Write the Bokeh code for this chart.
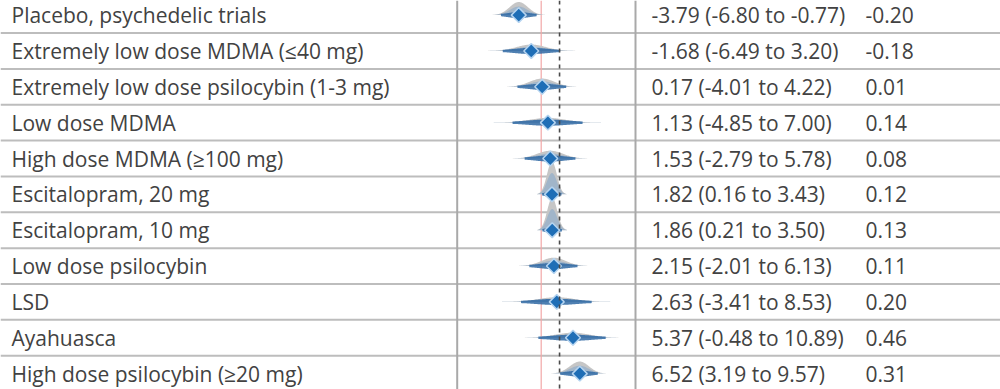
import numpy as np
from bokeh.plotting import figure
from bokeh.models import Range1d, Span, ColumnDataSource
from bokeh.core.properties import value
from bokeh.embed import file_html
from bokeh.resources import INLINE

# ---------------- data ----------------
labels = [
    "Placebo, psychedelic trials",
    "Extremely low dose MDMA (\u226440 mg)",
    "Extremely low dose psilocybin (1-3 mg)",
    "Low dose MDMA",
    "High dose MDMA (\u2265100 mg)",
    "Escitalopram, 20 mg",
    "Escitalopram, 10 mg",
    "Low dose psilocybin",
    "LSD",
    "Ayahuasca",
    "High dose psilocybin (\u226520 mg)",
]
means = [-3.79, -1.68, 0.17, 1.13, 1.53, 1.82, 1.86, 2.15, 2.63, 5.37, 6.52]
lows = [-6.80, -6.49, -4.01, -4.85, -2.79, 0.16, 0.21, -2.01, -3.41, -0.48, 3.19]
highs = [-0.77, 3.20, 4.22, 7.00, 5.78, 3.43, 3.50, 6.13, 8.53, 10.89, 9.57]
smd = [-0.20, -0.18, 0.01, 0.14, 0.08, 0.12, 0.13, 0.11, 0.20, 0.46, 0.31]
null_value = 0.0
reference_value = 3.1

# ---------------- layout ----------------
W, H = 1000, 389
PX_PER_UNIT = 5.92
ZERO_PX = 540.7
ROW_PX = 35.85
ROW0_PX = 14.6

def px(xp):
    return (xp - ZERO_PX) / PX_PER_UNIT

def rows(hpx):
    return hpx / ROW_PX

p = figure(width=W, height=H, output_backend="svg", toolbar_location=None,
           x_range=Range1d(px(0), px(W)),
           y_range=Range1d((H - ROW0_PX) / ROW_PX, -ROW0_PX / ROW_PX),
           min_border=0, min_border_left=0, min_border_right=0,
           min_border_top=0, min_border_bottom=0)
p.axis.visible = False
p.grid.visible = False
p.outline_line_color = None
p.background_fill_color = "white"

GRID = "#bdbdbd"
n = len(labels)
for k in range(-1, n + 1):
    p.add_layout(Span(location=k + 0.5, dimension="width", line_color=GRID,
                      line_width=2, level="underlay"))
for xp in (456.7, 635.0):
    p.add_layout(Span(location=px(xp), dimension="height", line_color="#a9a9a9",
                      line_width=2, level="underlay"))
p.add_layout(Span(location=null_value, dimension="height", line_color="#f2a7a7",
                  line_width=1.2, level="underlay"))

# ---------------- densities ----------------
t = np.linspace(-3.0, 3.0, 121)
for i, (m, lo, hi) in enumerate(zip(means, lows, highs)):
    sl = (m - lo) / 1.96
    sr = (hi - m) / 1.96
    sd = (sl + sr) / 2
    xs = np.where(t < 0, m + t * sl, m + t * sr)
    dens = np.exp(-0.5 * t ** 2)
    hg = 25.0 / sd ** 1.5
    # grey half-eye (upward)
    p.patch(np.r_[xs, xs[::-1]], np.r_[i - rows(hg) * dens, np.full_like(xs, i)],
            fill_color="#c6c6c6", line_color=None)
    # light blue half-eye
    hb = hg * 0.65
    p.patch(np.r_[xs, xs[::-1]], np.r_[i - rows(hb) * dens, np.full_like(xs, i)],
            fill_color="#5b95cf", fill_alpha=0.35, line_color=None)
    # tapered interval spindle
    t2 = np.linspace(-1.96, 1.96, 81)
    xs2 = np.where(t2 < 0, m + t2 * sl, m + t2 * sr)
    th = rows(2.4) * np.exp(-0.5 * (t2 / 1.1) ** 2) + rows(0.7)
    p.patch(np.r_[xs2, xs2[::-1]], np.r_[i - th, (i + th)[::-1]],
            fill_color="#2f69a3", fill_alpha=0.85, line_color=None)

p.add_layout(Span(location=reference_value, dimension="height", line_color="#4a4a4a",
                  line_width=1.6, line_dash="4 4"))

src = ColumnDataSource(dict(
    x=means, y=list(range(n)), label=labels,
    ci=[f"{m:.2f} ({l:.2f} to {h:.2f})" for m, l, h in zip(means, lows, highs)],
    smd=[f"{s:.2f}" for s in smd],
))
p.scatter("x", "y", source=src, marker="square", angle=np.pi / 4, size=10.5,
          fill_color="#1f6eb6", line_color="#b5d4f0", line_width=1.5)

TXT = "#424242"
common = dict(text_font=value("Open Sans"), text_font_size=value("21px"),
              text_color=TXT, text_baseline="middle", text_align="left")
p.text(x=px(11), y="y", text="label", source=src, **common)
p.text(x=px(651), y="y", text="ci", source=src, **common)
p.text(x=px(865), y="y", text="smd", source=src, **common)

open("out.html", "w").write(file_html(p, INLINE))
